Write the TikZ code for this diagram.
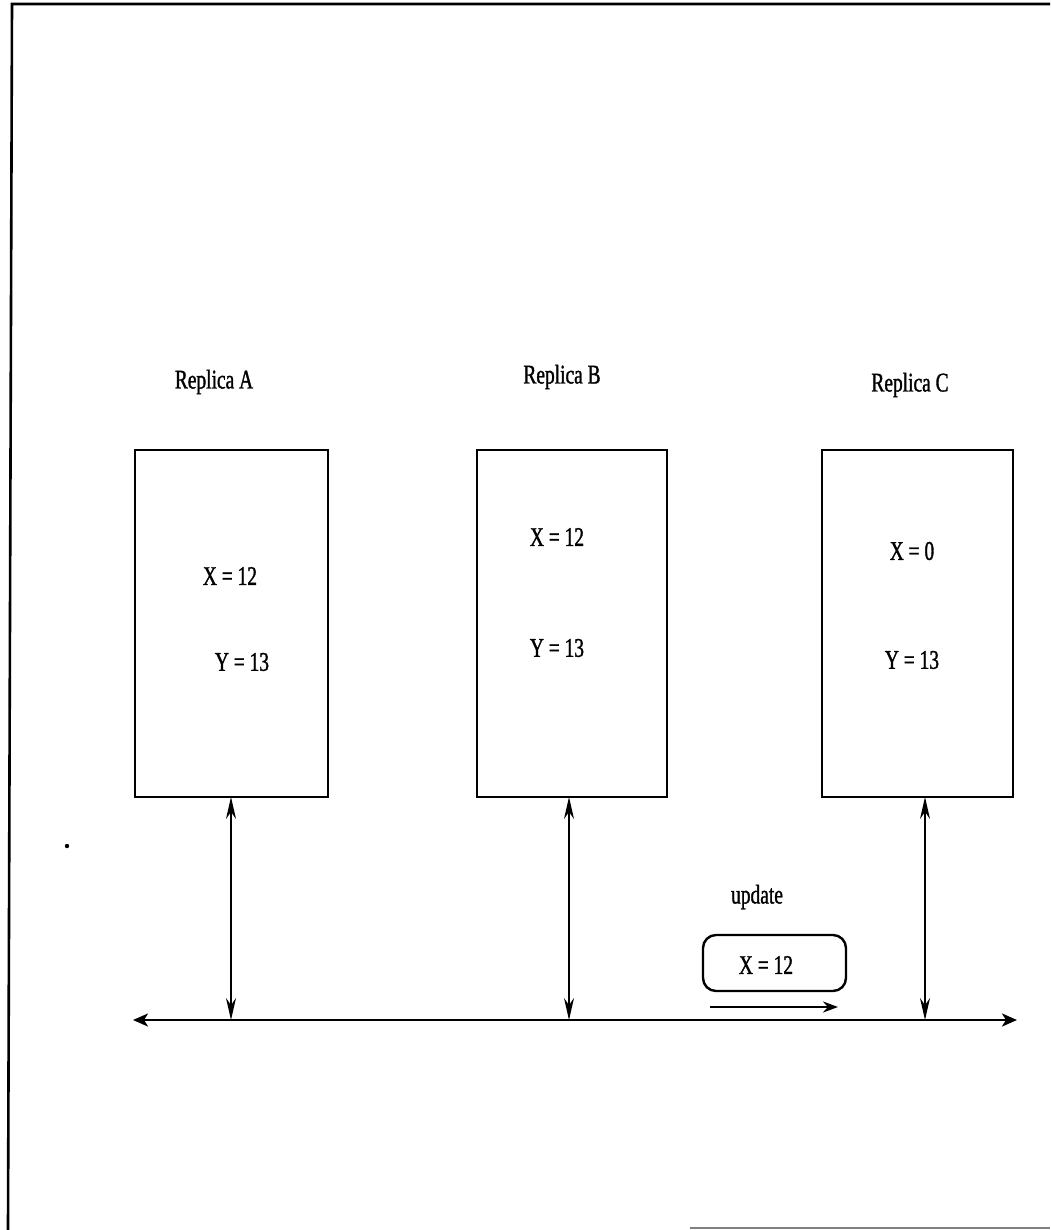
\documentclass[tikz,border=0pt]{standalone}
\usepackage{fontspec}
\setmainfont{Liberation Serif}
\newfontfamily\narrowserif[FakeStretch=0.72,FakeBold=1.2]{Liberation Serif}
\usetikzlibrary{arrows.meta}
\begin{document}
\begin{tikzpicture}[x=1pt,y=-1pt,
  every node/.style={font=\narrowserif\fontsize{27}{30}\selectfont, inner sep=0pt},
  replica/.style={draw, line width=2.4pt},
  link/.style={line width=1.6pt, {Stealth[length=22pt,width=10pt]}-{Stealth[length=22pt,width=10pt]}},
  bus/.style={line width=2.4pt, {Stealth[length=15pt,width=13pt,inset=4pt]}-{Stealth[length=15pt,width=13pt,inset=4pt]}},
  msg/.style={draw, line width=2.4pt, rounded corners=13pt}]
\useasboundingbox (0,0) rectangle (1050,1230);
% page frame
\draw[line width=2.6pt] (8,1230) -- (12,4) -- (1050,4);
\draw[line width=1.8pt, gray] (690,1228) -- (1050,1228);
\fill (67,846) circle (2.2pt);

% replicas
\draw[replica] (135,450) rectangle (328,797);
\draw[replica] (477,450) rectangle (667,797);
\draw[replica] (822,450) rectangle (1013,797);
\coordinate (boxA) at (231,797);
\coordinate (boxB) at (569,797);
\coordinate (boxC) at (925,797);

\node (labA) at (214,382) {Replica A};
\node (labB) at (562,377) {Replica B};
\node (labC) at (910,385) {Replica C};

\node (xa) at (230,576) {X = 12};
\node (ya) at (242,662) {Y = 13};
\node (xb) at (557,537) {X = 12};
\node (yb) at (557,648) {Y = 13};
\node (xc) at (912,551) {X = 0};
\node (yc) at (912,660) {Y = 13};

% network bus
\coordinate (busL) at (133,1020);
\coordinate (busR) at (1017,1020);
\draw[bus] (busL) -- (busR);
\coordinate (tapA) at (231,1020);
\coordinate (tapB) at (569,1020);
\coordinate (tapC) at (925,1020);
\draw[link] (tapA) -- (boxA);
\draw[link] (tapB) -- (boxB);
\draw[link] (tapC) -- (boxC);

% update message in transit
\node (upd) at (757,897) {update};
\draw[msg] (703,935) rectangle (846,991);
\node (msgtext) at (766,965) {X = 12};
\coordinate (mvS) at (710,1007);
\coordinate (mvE) at (838,1007);
\draw[line width=2.4pt, -{Stealth[length=15pt,width=11pt]}] (mvS) -- (mvE);
\end{tikzpicture}
\end{document}
